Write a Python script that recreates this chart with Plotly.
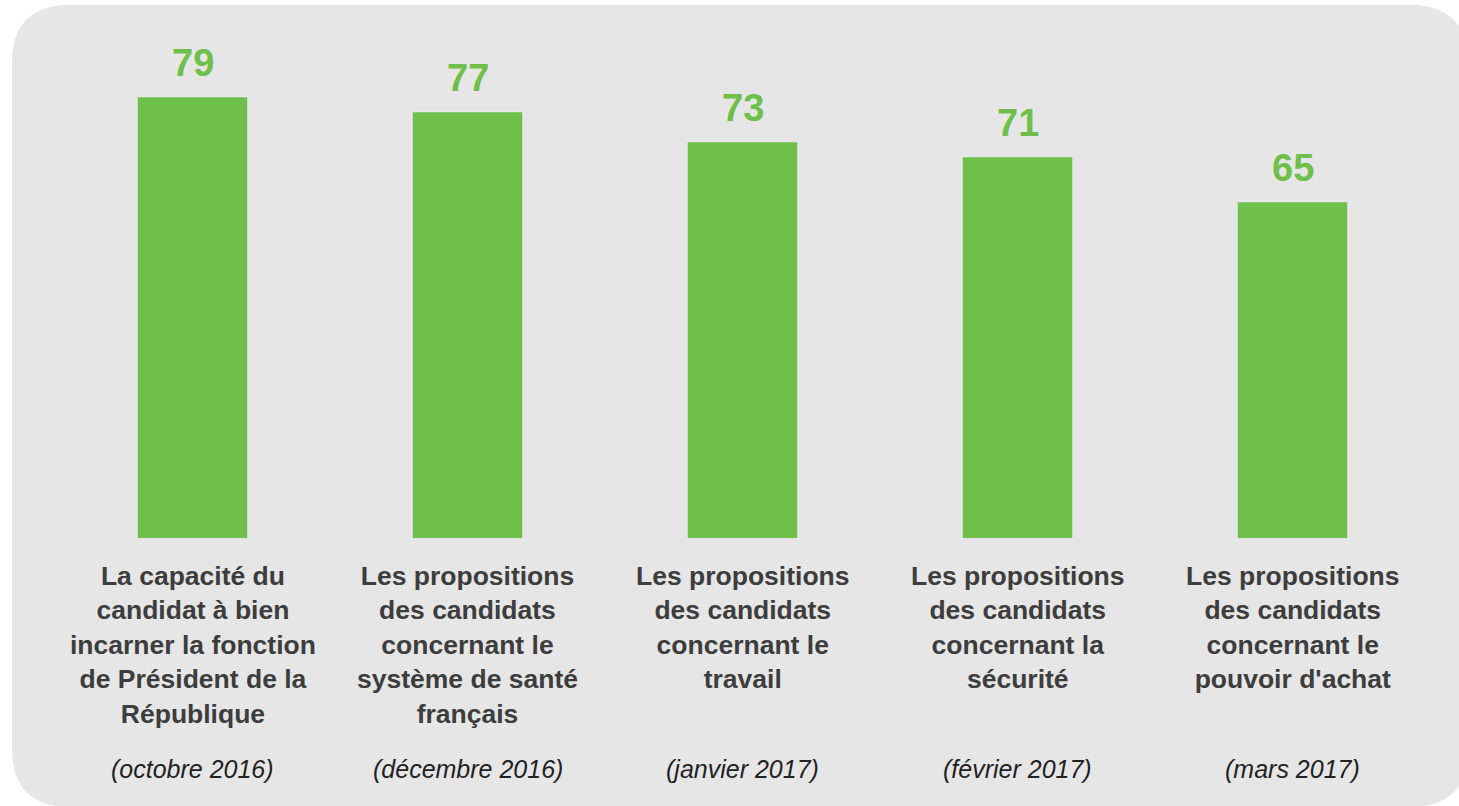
import plotly.graph_objects as go

# data
labels = [
    "La capacité du<br>candidat à bien<br>incarner la fonction<br>de Président de la<br>République",
    "Les propositions<br>des candidats<br>concernant le<br>système de santé<br>français",
    "Les propositions<br>des candidats<br>concernant le<br>travail",
    "Les propositions<br>des candidats<br>concernant la<br>sécurité",
    "Les propositions<br>des candidats<br>concernant le<br>pouvoir d'achat",
]
dates = ["(octobre 2016)", "(décembre 2016)", "(janvier 2017)", "(février 2017)", "(mars 2017)"]
values = [79, 77, 73, 71, 65]

GREEN = "#70bf4b"
W, H = 1459, 806
ML, MR, MT, MB = 55, 29, 20, 268
PW, PH = W - ML - MR, H - MT - MB


def px(x, y):
    # pixel -> paper coords
    return (x - ML) / PW, (H - MB - y) / PH


def rounded_rect(x0, y0, x1, y1, r):
    def p(x, y):
        a, b = px(x, y)
        return f"{a:.5f},{b:.5f}"
    return (f"M {p(x0 + r, y0)} L {p(x1 - r, y0)} Q {p(x1, y0)} {p(x1, y0 + r)} "
            f"L {p(x1, y1 - r)} Q {p(x1, y1)} {p(x1 - r, y1)} "
            f"L {p(x0 + r, y1)} Q {p(x0, y1)} {p(x0, y1 - r)} "
            f"L {p(x0, y0 + r)} Q {p(x0, y0)} {p(x0 + r, y0)} Z")


xs = list(range(len(values)))

fig = go.Figure()
fig.add_trace(go.Bar(x=xs, y=values, marker_color=GREEN, width=0.4, hoverinfo="skip"))

for i, v in enumerate(values):
    fig.add_annotation(x=i, y=v, xref="x", yref="y", text=f"<b>{v}</b>", showarrow=False,
                       yanchor="bottom", yshift=11,
                       font=dict(family="Liberation Sans, Arial", size=38, color=GREEN))

cat_top = px(0, 559)[1]
date_top = px(0, 753)[1]
for i, (lab, d) in enumerate(zip(labels, dates)):
    fig.add_annotation(x=i, y=cat_top, xref="x", yref="paper", text=f"<b>{lab}</b>",
                       showarrow=False, yanchor="top", align="center",
                       font=dict(family="Liberation Sans, Arial", size=26.5, color="#3d3d3d"))
    fig.add_annotation(x=i, y=date_top, xref="x", yref="paper", text=f"<i>{d}</i>",
                       showarrow=False, yanchor="top",
                       font=dict(family="Liberation Sans, Arial", size=25, color="#222222"))

fig.add_shape(type="path", xref="paper", yref="paper", layer="below",
              path=rounded_rect(12, 5, 1468, 807, 58),
              fillcolor="#e6e6e6", line=dict(width=0))

fig.update_layout(
    width=W, height=H,
    margin=dict(l=ML, r=MR, t=MT, b=MB),
    paper_bgcolor="white", plot_bgcolor="rgba(0,0,0,0)",
    showlegend=False,
    xaxis=dict(range=[-0.5, 4.5], showticklabels=False, showgrid=False, zeroline=False,
               fixedrange=True),
    yaxis=dict(range=[20.2, 20.2 + PH / 7.5], visible=False, showgrid=False, fixedrange=True),
)

fig.write_html("out.html", config={"displayModeBar": False},
               post_script="document.body.style.margin='0';document.body.style.overflow='hidden';")
